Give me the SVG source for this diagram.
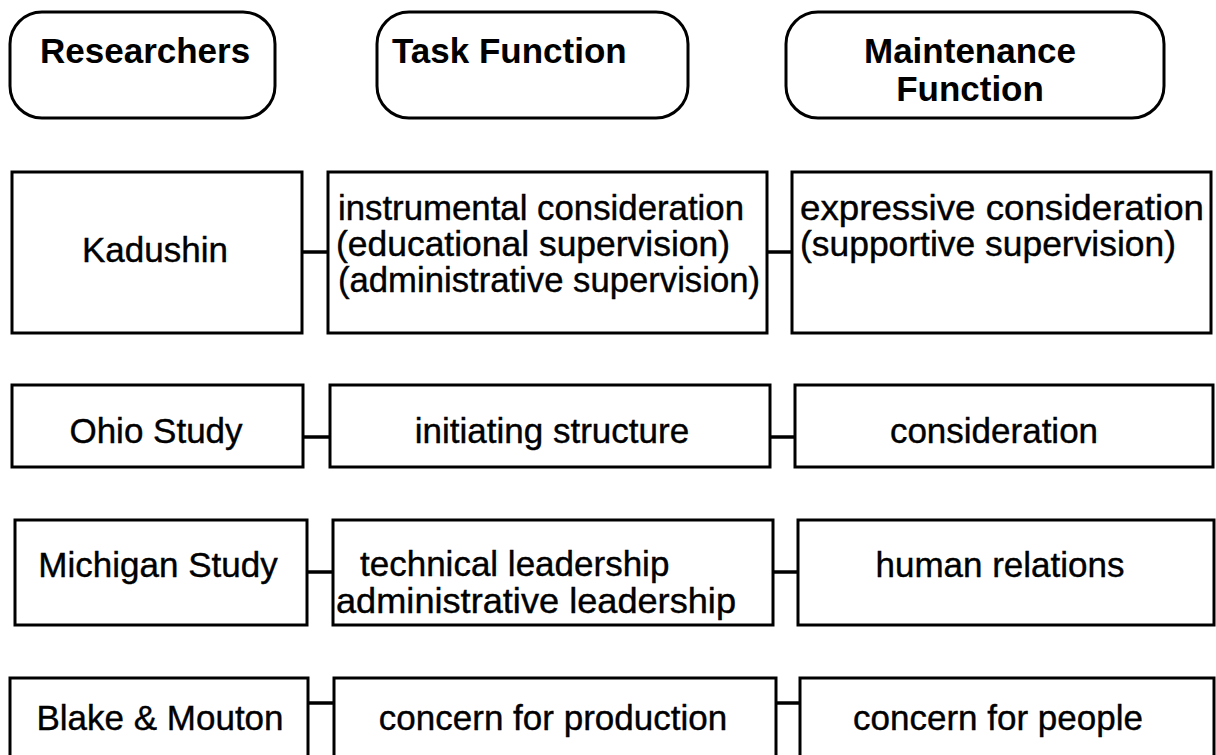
<svg xmlns="http://www.w3.org/2000/svg" width="1216" height="755" viewBox="0 0 1216 755">
  <style>
    .hdr { fill: #fff; stroke: #000; stroke-width: 3; }
    .box { fill: #fff; stroke: #000; stroke-width: 3; }
    .link { stroke: #000; stroke-width: 3.5; fill: none; }
    text { font-family: "Liberation Sans", Arial, Helvetica, sans-serif; font-size: 35px; fill: #000; stroke: #000; stroke-width: 0.4; }
    .h { font-size: 35px; font-weight: bold; stroke-width: 0; }
    .c { text-anchor: middle; }
  </style>
  <rect width="1216" height="755" fill="#fff"/>

  <!-- column headers -->
  <g id="hdr-researchers">
    <rect class="hdr" x="10" y="12" width="265" height="106" rx="32" ry="32"/>
    <text class="h" x="40" y="63">Researchers</text>
  </g>
  <g id="hdr-task">
    <rect class="hdr" x="377" y="12" width="311" height="106" rx="32" ry="32"/>
    <text class="h" x="392" y="63">Task Function</text>
  </g>
  <g id="hdr-maintenance">
    <rect class="hdr" x="786" y="12" width="378" height="106" rx="32" ry="32"/>
    <text class="h c" x="970" y="63">Maintenance</text>
    <text class="h c" x="970" y="101">Function</text>
  </g>

  <!-- connectors between researcher, task and maintenance boxes -->
  <g id="connectors">
    <line class="link" x1="302" y1="252" x2="328" y2="252"/>
    <line class="link" x1="767" y1="252" x2="792" y2="252"/>
    <line class="link" x1="303" y1="437" x2="330" y2="437"/>
    <line class="link" x1="770" y1="437" x2="795" y2="437"/>
    <line class="link" x1="307" y1="572" x2="333" y2="572"/>
    <line class="link" x1="773" y1="572" x2="798" y2="572"/>
    <line class="link" x1="308" y1="703" x2="334" y2="703"/>
    <line class="link" x1="776" y1="703" x2="800" y2="703"/>
  </g>

  <!-- Kadushin row -->
  <g id="kadushin">
    <rect class="box" x="12" y="172" width="290" height="161"/>
    <text class="c" x="155" y="262">Kadushin</text>
  </g>
  <g id="kadushin-task">
    <rect class="box" x="328" y="172" width="439" height="161"/>
    <text x="338" y="220" textLength="406" lengthAdjust="spacingAndGlyphs">instrumental consideration</text>
    <text x="336" y="256" textLength="394" lengthAdjust="spacingAndGlyphs">(educational supervision)</text>
    <text x="338" y="292" textLength="422" lengthAdjust="spacingAndGlyphs">(administrative supervision)</text>
  </g>
  <g id="kadushin-maintenance">
    <rect class="box" x="792" y="172" width="419" height="161"/>
    <text x="800" y="220" textLength="404" lengthAdjust="spacingAndGlyphs">expressive consideration</text>
    <text x="800" y="256" textLength="376" lengthAdjust="spacingAndGlyphs">(supportive supervision)</text>
  </g>

  <!-- Ohio row -->
  <g id="ohio">
    <rect class="box" x="12" y="385" width="291" height="82"/>
    <text class="c" x="156" y="443">Ohio Study</text>
  </g>
  <g id="ohio-task">
    <rect class="box" x="330" y="385" width="440" height="82"/>
    <text class="c" x="552" y="443">initiating structure</text>
  </g>
  <g id="ohio-maintenance">
    <rect class="box" x="795" y="385" width="418" height="82"/>
    <text class="c" x="994" y="443">consideration</text>
  </g>

  <!-- Michigan row -->
  <g id="michigan">
    <rect class="box" x="15" y="520" width="292" height="105"/>
    <text class="c" x="158" y="577">Michigan Study</text>
  </g>
  <g id="michigan-task">
    <rect class="box" x="333" y="520" width="440" height="105"/>
    <text x="360" y="576">technical leadership</text>
    <text x="336" y="613" textLength="400" lengthAdjust="spacingAndGlyphs">administrative leadership</text>
  </g>
  <g id="michigan-maintenance">
    <rect class="box" x="798" y="520" width="416" height="105"/>
    <text class="c" x="1000" y="577">human relations</text>
  </g>

  <!-- Blake & Mouton row -->
  <g id="blake">
    <rect class="box" x="10" y="678" width="298" height="90"/>
    <text class="c" x="160" y="730">Blake &amp; Mouton</text>
  </g>
  <g id="blake-task">
    <rect class="box" x="334" y="678" width="442" height="90"/>
    <text class="c" x="553" y="730">concern for production</text>
  </g>
  <g id="blake-maintenance">
    <rect class="box" x="800" y="678" width="414" height="90"/>
    <text class="c" x="998" y="730">concern for people</text>
  </g>
</svg>
